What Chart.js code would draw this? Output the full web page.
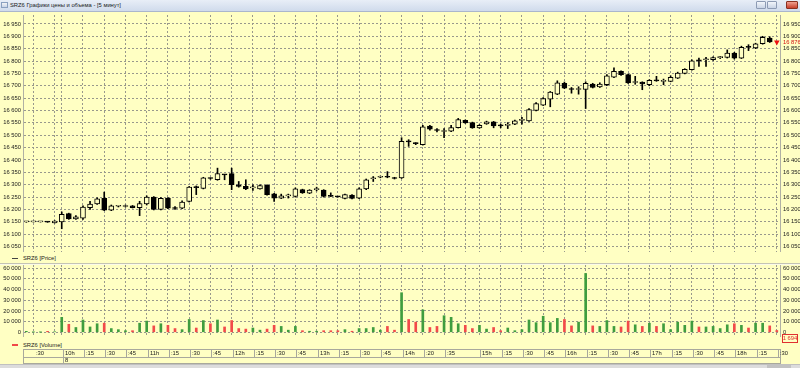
<!DOCTYPE html>
<html>
<head>
<meta charset="utf-8">
<script src="https://cdn.jsdelivr.net/npm/chart.js@4.4.0/dist/chart.umd.min.js"></script>
<style>
  body { margin:0; width:800px; height:368px; overflow:hidden; background:#ffffc3; position:relative;
         font-family:'Liberation Sans', Arial, sans-serif; color:#1a1a1a; }
  #title { position:absolute; left:0; top:0; width:800px; height:11px; background:linear-gradient(#e8eef7,#d0dbec);
           border-bottom:1px solid #aab6cc; font-size:5.8px; line-height:11px; }
  #title span { position:absolute; left:10px; top:0; }
  #icon { position:absolute; left:1px; top:2px; width:7px; height:6px; background:linear-gradient(#f4f4f4,#c8d4e8); border:1px solid #8aa0c0; box-sizing:border-box; }
  .btn { position:absolute; top:1px; height:8px; border:1px solid #8d9bb4; box-sizing:border-box; border-radius:1px;
         background:linear-gradient(#f2f5fa,#c9d4e6); }
  .btn.close { background:linear-gradient(#f0a090,#c8402c); border-color:#8a3020; }
  .legend { position:absolute; left:23px; font-size:5.8px; line-height:7px; }
  .dash { position:absolute; left:12px; width:6px; }
  #split { position:absolute; left:0; top:263px; width:800px; height:1px; background:#c4c4b4; border-bottom:1px solid #fafae8; }
  #bottom { position:absolute; left:0; top:364px; width:800px; height:4px; background:#dcdcdc; border-top:1px solid #c0c0c0; box-sizing:border-box; }
  #thumb { position:absolute; left:767px; top:0; width:24px; height:3px; background:#c2c2c2; }
  canvas { position:absolute; left:0; }
</style>
</head>
<body>
<div id="title"><div id="icon"></div><span>SRZ6 Графики цены и объема - [5 минут]</span>
  <div class="btn" style="left:756px;width:10px"></div>
  <div class="btn" style="left:767px;width:10px"></div>
  <div class="btn close" style="left:786px;width:12px"></div>
</div>
<div class="dash" style="top:258px;height:1px;background:#444"></div>
<div class="legend" style="top:255px">SRZ6 [Price]</div>
<div id="split"></div>
<div class="dash" style="top:344px;height:2px;background:#f04848"></div>
<div class="legend" style="top:341.5px">SRZ6 [Volume]</div>
<canvas id="price" width="800" height="253" style="top:7px"></canvas>
<canvas id="volume" width="800" height="107" style="top:257px"></canvas>
<div id="bottom"><div id="thumb"></div></div>

<script>
// 5-minute candles, SRZ6
const opens  = [16150,16150,16150,16150,16146,16150,16183,16162,16165,16207,16222,16245,16197,16213,16212,16215,16207,16222,16250,16200,
                16246,16205,16205,16232,16290,16285,16326,16320,16341,16345,16300,16293,16287,16283,16298,16263,16246,16255,16253,16280,
                16266,16280,16278,16254,16252,16245,16258,16246,16283,16324,16330,16331,16328,16327,16475,16468,16462,16537,16522,16515,
                16516,16531,16560,16551,16530,16546,16554,16539,16540,16545,16560,16558,16600,16622,16646,16666,16710,16686,16685,16685,
                16707,16695,16704,16735,16758,16745,16713,16715,16704,16721,16718,16718,16731,16750,16765,16802,16805,16805,16814,16815,
                16832,16812,16856,16853,16870,16893,16877];
const highs  = [16152,16151,16151,16151,16155,16190,16185,16175,16215,16233,16247,16270,16218,16215,16218,16216,16233,16255,16252,16248,
                16248,16212,16235,16293,16295,16330,16328,16367,16342,16367,16313,16320,16300,16300,16300,16265,16262,16262,16287,16282,
                16280,16290,16280,16267,16253,16262,16260,16287,16323,16333,16335,16353,16330,16490,16482,16470,16540,16540,16527,16527,
                16540,16568,16562,16553,16543,16557,16556,16545,16551,16561,16572,16608,16632,16652,16677,16720,16715,16693,16696,16716,
                16710,16712,16745,16772,16760,16747,16738,16716,16725,16738,16727,16740,16755,16769,16805,16812,16815,16817,16819,16845,
                16835,16860,16866,16872,16900,16898,16877];
const lows   = [16148,16149,16149,16148,16145,16122,16160,16160,16160,16200,16220,16195,16195,16210,16210,16206,16175,16218,16198,16198,
                16203,16200,16203,16230,16260,16283,16322,16318,16320,16280,16290,16280,16277,16282,16258,16232,16244,16246,16250,16265,
                16264,16275,16250,16252,16250,16243,16243,16244,16280,16313,16328,16328,16323,16325,16455,16462,16460,16520,16513,16490,
                16514,16529,16548,16528,16528,16544,16530,16530,16527,16543,16545,16556,16598,16620,16615,16664,16688,16670,16666,16608,
                16691,16693,16700,16733,16742,16709,16706,16684,16700,16718,16704,16716,16729,16748,16763,16778,16778,16802,16810,16812,
                16808,16810,16842,16850,16868,16875,16876];
const closes = [16150,16150,16150,16149,16153,16180,16162,16170,16210,16222,16243,16197,16215,16213,16212,16207,16224,16250,16200,16245,
                16205,16204,16230,16290,16288,16328,16325,16345,16340,16300,16293,16283,16287,16296,16260,16246,16255,16256,16283,16267,
                16278,16280,16253,16253,16251,16260,16245,16283,16320,16327,16331,16330,16325,16475,16473,16466,16534,16524,16519,16516,
                16531,16563,16550,16530,16540,16554,16538,16538,16543,16558,16560,16604,16628,16648,16674,16712,16690,16685,16686,16710,
                16693,16707,16740,16758,16745,16711,16713,16707,16722,16720,16718,16734,16751,16766,16801,16801,16806,16814,16814,16832,
                16812,16855,16855,16869,16896,16877,16876];
const volumes = [900,200,100,900,500,14000,7500,4500,11500,5000,8000,8500,3500,2500,1500,1500,8500,10500,6000,8000,
                 6500,3500,2500,12000,4000,11000,8000,11500,5000,11000,3500,3000,4000,2000,3000,6500,5500,2000,5500,1500,
                 1000,1000,1500,1500,1500,2500,1000,3500,3500,4500,2000,5500,2000,37000,12000,9500,21000,4500,5500,15500,
                 14000,8000,6500,3500,6500,3000,4500,1500,4000,1500,2500,11500,9000,15000,9000,13000,12000,6000,9500,55000,
                 6000,5500,11000,5500,5000,10500,7000,5500,8500,5500,8000,2500,9500,6500,10500,5000,5000,5500,3500,7000,
                 8000,6500,4000,8500,8500,6000,1694];

const priceTicks  = [16050,16100,16150,16200,16250,16300,16350,16400,16450,16500,16550,16600,16650,16700,16750,16800,16850,16900,16950];
const volumeTicks = [0,10000,20000,30000,40000,50000,60000];

// candle index of each vertical grid line and time label
const gridAt      = [1,4,5,8,11,14,17,20,23,26,29,32,35,38,41,44,47,50,53,56,59,62,64,67,70,73,76,79,82,85,88,91,94,97,100,103,106];
const timeLabels  = [':30','10h',':15',':30',':45','11h',':15',':30',':45','12h',':15',':30',':45','13h',':15',':30',':45',
                     '14h',':20',':35','15h',':15',':30',':45','16h',':15',':30',':45','17h',':15',':30',':45','18h',':15',':30'];
const timeLabelAt = [1,5,8,11,14,17,20,23,26,29,32,35,38,41,44,47,50,53,56,59,64,67,70,73,76,79,82,85,88,91,94,97,100,103,106];
const dayLabel = '8';
const dayAt = 5;

const BG = '#ffffc3';
const GRID = '#98988c';
const UP_VOL = '#3f9d3f';
const DOWN_VOL = '#f24a4a';
const font = { family: "'Liberation Sans', Arial, sans-serif", size: 5.8 };

const last = closes.length - 1;
const isUp = i => closes[i] >= opens[i];
const fmt = n => String(n).replace(/\B(?=(\d{3})+(?!\d))/g, ' ');

function xAxis() {
  return {
    type: 'linear', min: -0.33, max: 106.45, offset: false,
    afterBuildTicks: s => { s.ticks = gridAt.map(v => ({ value: v })); },
    afterFit: s => { s.height = 0; },
    ticks: { display: false },
    grid: { color: GRID, drawTicks: false, offset: false },
    border: { display: false, dash: [2, 2] }
  };
}
function yAxis(pos, ticks, min, max, grid) {
  return {
    position: pos, min, max,
    afterBuildTicks: s => { s.ticks = ticks.map(v => ({ value: v })); },
    afterFit: s => { s.width = pos === 'left' ? 24 : 20; },
    ticks: { font, color: '#1a1a1a', padding: 3, autoSkip: false, callback: v => fmt(v) },
    grid: { display: grid, color: GRID, drawTicks: false },
    border: { display: false, dash: [2, 2] }
  };
}

function frameSides(chart) {
  const ctx = chart.ctx, a = chart.chartArea;
  ctx.strokeStyle = '#b0b0a4'; ctx.lineWidth = 1;
  ctx.beginPath();
  ctx.moveTo(a.left - 0.5, a.top); ctx.lineTo(a.left - 0.5, a.bottom);
  ctx.moveTo(a.right + 0.5, a.top); ctx.lineTo(a.right + 0.5, a.bottom);
  ctx.stroke();
}

const candleIdx = opens.slice(0, last).map((_, i) => i);

// ─── price panel ─────────────────────────────
new Chart(document.getElementById('price'), {
  type: 'bar',
  data: {
    datasets: [
      {
        data: candleIdx.map(i => ({ x: i, y: [opens[i], closes[i]] })),
        backgroundColor: c => isUp(c.dataIndex) ? BG : '#000',
        borderColor: '#000', borderWidth: 1, borderSkipped: false,
        barThickness: 5, minBarLength: 1, grouped: false
      },
      {
        data: candleIdx.map(i => ({ x: i, y: [lows[i], highs[i]] })),
        backgroundColor: '#000', borderWidth: 0, barThickness: 1, grouped: false
      },
      {
        type: 'line', showLine: false,
        data: [{ x: last, y: closes[last] }],
        pointStyle: 'triangle', rotation: 180, pointRadius: 3.2,
        pointBackgroundColor: '#ee1010', pointBorderColor: '#ee1010', pointBorderWidth: 0
      }
    ]
  },
  options: {
    responsive: false, animation: false,
    layout: { padding: { top: 8, bottom: 8 } },
    plugins: { legend: { display: false }, tooltip: { enabled: false } },
    scales: {
      x: xAxis(),
      y: yAxis('left', priceTicks, 16028, 16986, true),
      y2: yAxis('right', priceTicks, 16028, 16986, false)
    }
  },
  plugins: [{
    id: 'lastPrice',
    afterDraw(chart) {
      const ctx = chart.ctx, y2 = chart.scales.y2, a = chart.chartArea;
      ctx.save();
      frameSides(chart);
      ctx.font = `${font.size}px ${font.family}`;
      ctx.fillStyle = '#d01010'; ctx.textBaseline = 'middle'; ctx.textAlign = 'left';
      ctx.fillText(fmt(closes[last]), a.right + 3, y2.getPixelForValue(closes[last]));
      ctx.restore();
    }
  }]
});

// ─── volume panel + time axis ─────────────────
new Chart(document.getElementById('volume'), {
  type: 'bar',
  data: {
    datasets: [{
      data: volumes.map((v, i) => ({ x: i, y: v })),
      backgroundColor: volumes.map((v, i) => isUp(i) ? UP_VOL : DOWN_VOL),
      borderWidth: 0, barThickness: 2, grouped: false
    }]
  },
  options: {
    responsive: false, animation: false,
    layout: { padding: { top: 8, bottom: 27 } },
    plugins: { legend: { display: false }, tooltip: { enabled: false } },
    scales: {
      x: xAxis(),
      y: yAxis('left', volumeTicks, -4390, 62900, true),
      y2: yAxis('right', volumeTicks, -4390, 62900, false)
    }
  },
  plugins: [{
    id: 'timeAxis',
    afterDraw(chart) {
      const ctx = chart.ctx, x = chart.scales.x, a = chart.chartArea;
      const off = 257;  // canvas top in page
      ctx.save();
      frameSides(chart);

      // current volume box
      ctx.font = `${font.size}px ${font.family}`;
      ctx.fillStyle = BG; ctx.fillRect(782.5, 334.5 - off, 15, 8);
      ctx.strokeStyle = '#e03030'; ctx.strokeRect(782.5, 334.5 - off, 15, 8);
      ctx.fillStyle = '#e03030'; ctx.textBaseline = 'middle'; ctx.textAlign = 'center';
      ctx.fillText(fmt(volumes[last]), 790, 338.8 - off);

      // time axis box
      const top = 349.5 - off, mid = 357.5 - off, bot = 363.5 - off;
      ctx.strokeStyle = '#a8a89c';
      ctx.strokeRect(a.left - 0.5, top, a.right - a.left + 1, bot - top);
      ctx.beginPath(); ctx.moveTo(a.left - 0.5, mid); ctx.lineTo(a.right + 0.5, mid); ctx.stroke();
      ctx.fillStyle = '#1a1a1a'; ctx.textAlign = 'left';
      timeLabels.forEach((lab, k) => {
        const px = Math.round(x.getPixelForValue(timeLabelAt[k])) + 1.5;
        if (k > 0 && px < a.right) {
          ctx.beginPath(); ctx.moveTo(px, top);
          ctx.lineTo(px, timeLabelAt[k] === dayAt ? bot : mid); ctx.stroke();
        }
        ctx.fillText(lab, px + 1.5, (top + mid) / 2 + 0.3);
      });
      const dx = Math.round(x.getPixelForValue(dayAt)) + 1.5;
      ctx.fillText(dayLabel, dx + 1.5, (mid + bot) / 2 + 0.3);
      ctx.restore();
    }
  }]
});
</script>
</body>
</html>
